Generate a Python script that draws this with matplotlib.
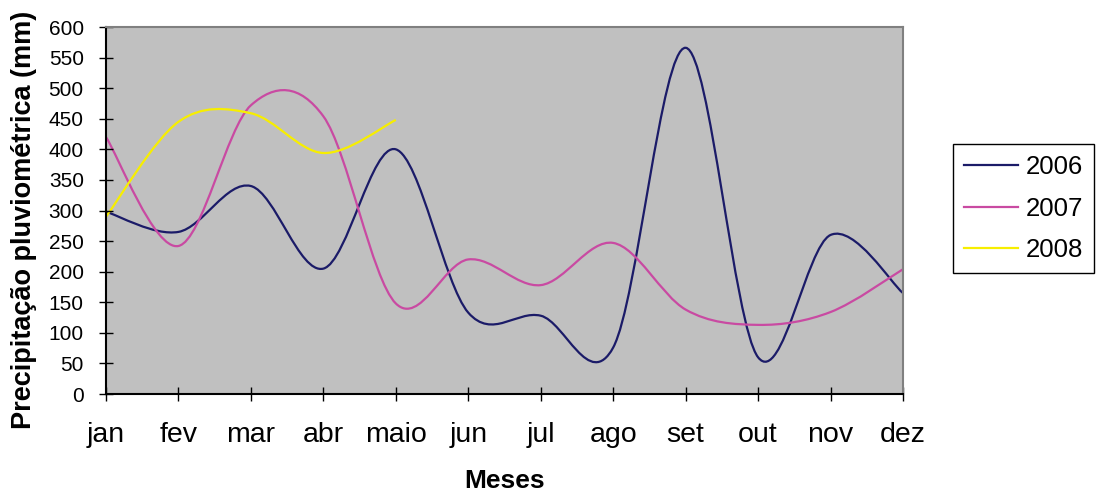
import numpy as np
import matplotlib
matplotlib.use("Agg")
import matplotlib.pyplot as plt
from matplotlib.path import Path
from matplotlib.patches import PathPatch
from matplotlib.lines import Line2D

plt.rcParams['font.family'] = ['Liberation Sans', 'DejaVu Sans']

# monthly rainfall (mm)
meses = ['jan', 'fev', 'mar', 'abr', 'maio', 'jun', 'jul', 'ago', 'set', 'out', 'nov', 'dez']
chuva_2006 = [298, 265, 340, 205, 400, 133, 128, 76, 566, 60, 260, 165]
chuva_2007 = [420, 242, 472, 454, 148, 220, 178, 247, 138, 113, 134, 204]
chuva_2008 = [290, 445, 459, 394, 448]

series = [('2006', chuva_2006, '#1b1b68'),
          ('2007', chuva_2007, '#c94aa2'),
          ('2008', chuva_2008, '#f7ee00')]


def smooth_path(y):
    # Excel-like smoothed line: cubic Bezier through each point,
    # tangents from neighbouring points (Catmull-Rom)
    x = np.arange(len(y), dtype=float)
    y = np.asarray(y, dtype=float)
    pts = np.column_stack([x, y])
    verts = [tuple(pts[0])]
    codes = [Path.MOVETO]
    n = len(pts)
    for i in range(n - 1):
        p_prev = pts[i - 1] if i > 0 else pts[i]
        p_next2 = pts[i + 2] if i + 2 < n else pts[i + 1]
        c1 = pts[i] + (pts[i + 1] - p_prev) / 6.0
        c2 = pts[i + 1] - (p_next2 - pts[i]) / 6.0
        verts += [tuple(c1), tuple(c2), tuple(pts[i + 1])]
        codes += [Path.CURVE4] * 3
    return Path(verts, codes)


fig = plt.figure(figsize=(10.99, 4.94), dpi=100)
ax = fig.add_axes([106 / 1099, 1 - 394 / 494, 797 / 1099, 367 / 494])
ax.set_facecolor('#c0c0c0')

handles = []
for name, vals, col in series:
    ax.add_patch(PathPatch(smooth_path(vals), fill=False, edgecolor=col,
                           lw=1.6, joinstyle='round', capstyle='butt'))
    handles.append(Line2D([], [], color=col, lw=1.6, label=name))

ax.set_xlim(0, len(meses) - 1)
ax.set_ylim(0, 600)
ax.set_xticks(range(len(meses)))
ax.set_xticklabels(meses)
ax.set_yticks(range(0, 601, 50))

ax.tick_params(axis='x', direction='inout', length=10, width=1, labelsize=20.5, pad=15)
ax.tick_params(axis='y', direction='inout', length=10, width=1, labelsize=15, pad=11)

for s in ['left', 'bottom']:
    ax.spines[s].set_color('black')
    ax.spines[s].set_linewidth(1.5)
for s in ['top', 'right']:
    ax.spines[s].set_color('#808080')
    ax.spines[s].set_linewidth(1.5)

fig.text(24 / 1099, 1 - 220 / 494, 'Precipitação pluviométrica (mm)', rotation=90,
         ha='center', va='center', fontsize=19.5, fontweight='bold')
fig.text(505 / 1099, 1 - 481 / 494, 'Meses', ha='center', va='center',
         fontsize=19, fontweight='bold')

leg = fig.legend(handles=handles, loc='upper left', bbox_to_anchor=(953 / 1099, 1 - 144 / 494),
                 bbox_transform=fig.transFigure, borderaxespad=0, fontsize=18.5,
                 handlelength=2.1, handletextpad=0.3, labelspacing=0.69,
                 fancybox=False, framealpha=1, edgecolor='black', borderpad=0.42)
leg.get_frame().set_linewidth(1.0)

fig.savefig('out.png', dpi=100)
